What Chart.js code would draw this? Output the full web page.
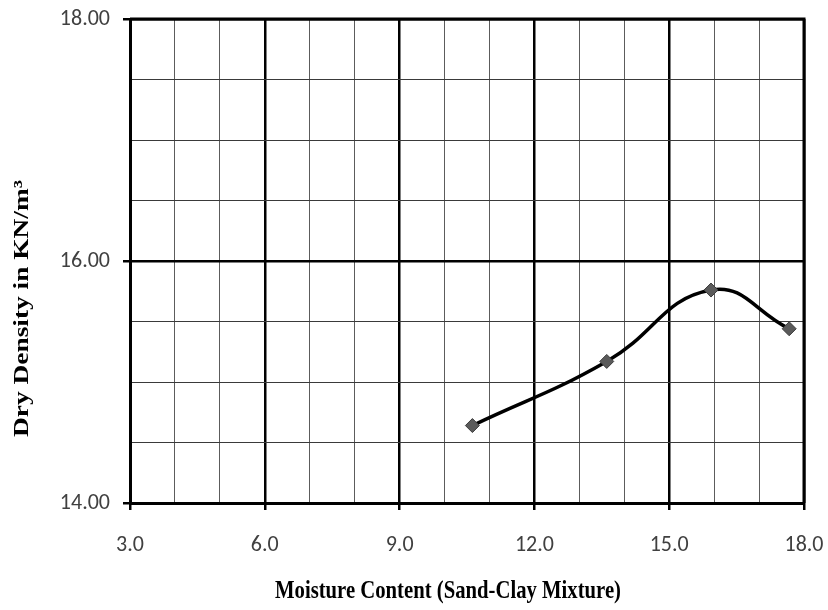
<!DOCTYPE html>
<html>
<head>
<meta charset="utf-8">
<script src="https://cdn.jsdelivr.net/npm/chart.js@4.4.1/dist/chart.umd.min.js"></script>
<style>
  html, body { margin: 0; padding: 0; background: #ffffff; }
  #wrap { width: 828px; height: 610px; }
</style>
</head>
<body>
<div id="wrap"><canvas id="c" width="828" height="610"></canvas></div>
<script>
// Compaction test: moisture content (%) vs dry density (KN/m³)
const moisture = [10.62, 13.61, 15.93, 17.67];
const dryDensity = [14.64, 15.17, 15.76, 15.44];

const xRange = { min: 3, max: 18, step: 1, labelEvery: 3 };
const yRange = { min: 14, max: 18, step: 0.5, labelEvery: 2 };

const xTitle = 'Moisture Content (Sand-Clay Mixture)';
const yTitle = 'Dry Density in KN/m³';

const isMajor = (v, every) => Math.abs(v / every - Math.round(v / every)) < 1e-6;

// Frame around the plot area and the two axis titles
const framePlugin = {
  id: 'frame',
  beforeDatasetsDraw(chart) {
    const { ctx, chartArea: a } = chart;
    ctx.save();
    ctx.strokeStyle = '#000';
    ctx.lineWidth = 3;
    ctx.beginPath();
    ctx.moveTo(a.left, a.top);
    ctx.lineTo(a.right, a.top);
    ctx.lineTo(a.right, a.bottom);
    ctx.stroke();
    ctx.restore();
  },
  afterDraw(chart) {
    const { ctx } = chart;
    ctx.save();
    ctx.fillStyle = '#000';
    ctx.textBaseline = 'alphabetic';

    // x title
    ctx.font = 'bold 26px "Liberation Serif", "Times New Roman", serif';
    let w = ctx.measureText(xTitle).width;
    const xW = 346;
    ctx.save();
    ctx.translate(275, 598);
    ctx.scale(xW / w, 1);
    ctx.textAlign = 'left';
    ctx.fillText(xTitle, 0, 0);
    ctx.restore();

    // y title (rotated)
    ctx.font = 'bold 22px "Liberation Serif", "Times New Roman", serif';
    w = ctx.measureText(yTitle).width;
    const yW = 257;
    ctx.save();
    ctx.translate(28, 437);
    ctx.rotate(-Math.PI / 2);
    ctx.scale(yW / w, 1);
    ctx.textAlign = 'left';
    ctx.fillText(yTitle, 0, 0);
    ctx.restore();

    ctx.restore();
  }
};

const tickFont = { family: 'Carlito, "Open Sans", "Liberation Sans", sans-serif', size: 22 };

new Chart(document.getElementById('c'), {
  type: 'scatter',
  data: {
    datasets: [{
      data: moisture.map((m, i) => ({ x: m, y: dryDensity[i] })),
      showLine: true,
      borderColor: '#000',
      borderWidth: 3.5,
      tension: 0.45,
      pointStyle: 'rectRot',
      pointRadius: 7,
      pointHoverRadius: 7,
      pointBackgroundColor: '#5a5a5a',
      pointBorderColor: '#3c3c3c',
      pointBorderWidth: 1
    }]
  },
  plugins: [framePlugin],
  options: {
    responsive: false,
    animation: false,
    layout: { padding: { left: 0, top: 19, right: 24, bottom: 0 } },
    plugins: {
      legend: { display: false },
      tooltip: { enabled: false }
    },
    scales: {
      x: {
        type: 'linear',
        min: xRange.min,
        max: xRange.max,
        afterFit(scale) {
          scale.height = 107;
          scale.paddingLeft = 0;
          scale.paddingRight = 0;
        },
        ticks: {
          stepSize: xRange.step,
          autoSkip: false,
          maxRotation: 0,
          padding: 22,
          color: '#404040',
          font: tickFont,
          callback: v => isMajor(v, xRange.labelEvery) ? v.toFixed(1) : ''
        },
        grid: {
          color: c => isMajor(c.tick.value, xRange.labelEvery) ? '#000' : '#5c5c5c',
          lineWidth: c => isMajor(c.tick.value, xRange.labelEvery) ? 2.5 : 1,
          tickLength: 7,
          tickColor: c => isMajor(c.tick.value, xRange.labelEvery) ? '#000' : 'rgba(0,0,0,0)',
          tickWidth: 2.5
        },
        border: { color: '#000', width: 3 }
      },
      y: {
        type: 'linear',
        min: yRange.min,
        max: yRange.max,
        afterFit(scale) {
          scale.width = 130;
          scale.paddingTop = 0;
          scale.paddingBottom = 0;
        },
        ticks: {
          stepSize: yRange.step,
          autoSkip: false,
          padding: 13,
          color: '#404040',
          font: tickFont,
          callback: v => isMajor(v, yRange.labelEvery) ? v.toFixed(2) : ''
        },
        grid: {
          color: c => isMajor(c.tick.value, yRange.labelEvery) ? '#000' : '#3a3a3a',
          lineWidth: c => isMajor(c.tick.value, yRange.labelEvery) ? 2.5 : 1,
          tickLength: 7,
          tickColor: c => isMajor(c.tick.value, yRange.labelEvery) ? '#000' : 'rgba(0,0,0,0)',
          tickWidth: 2.5
        },
        border: { color: '#000', width: 3 }
      }
    }
  }
});
</script>
</body>
</html>
